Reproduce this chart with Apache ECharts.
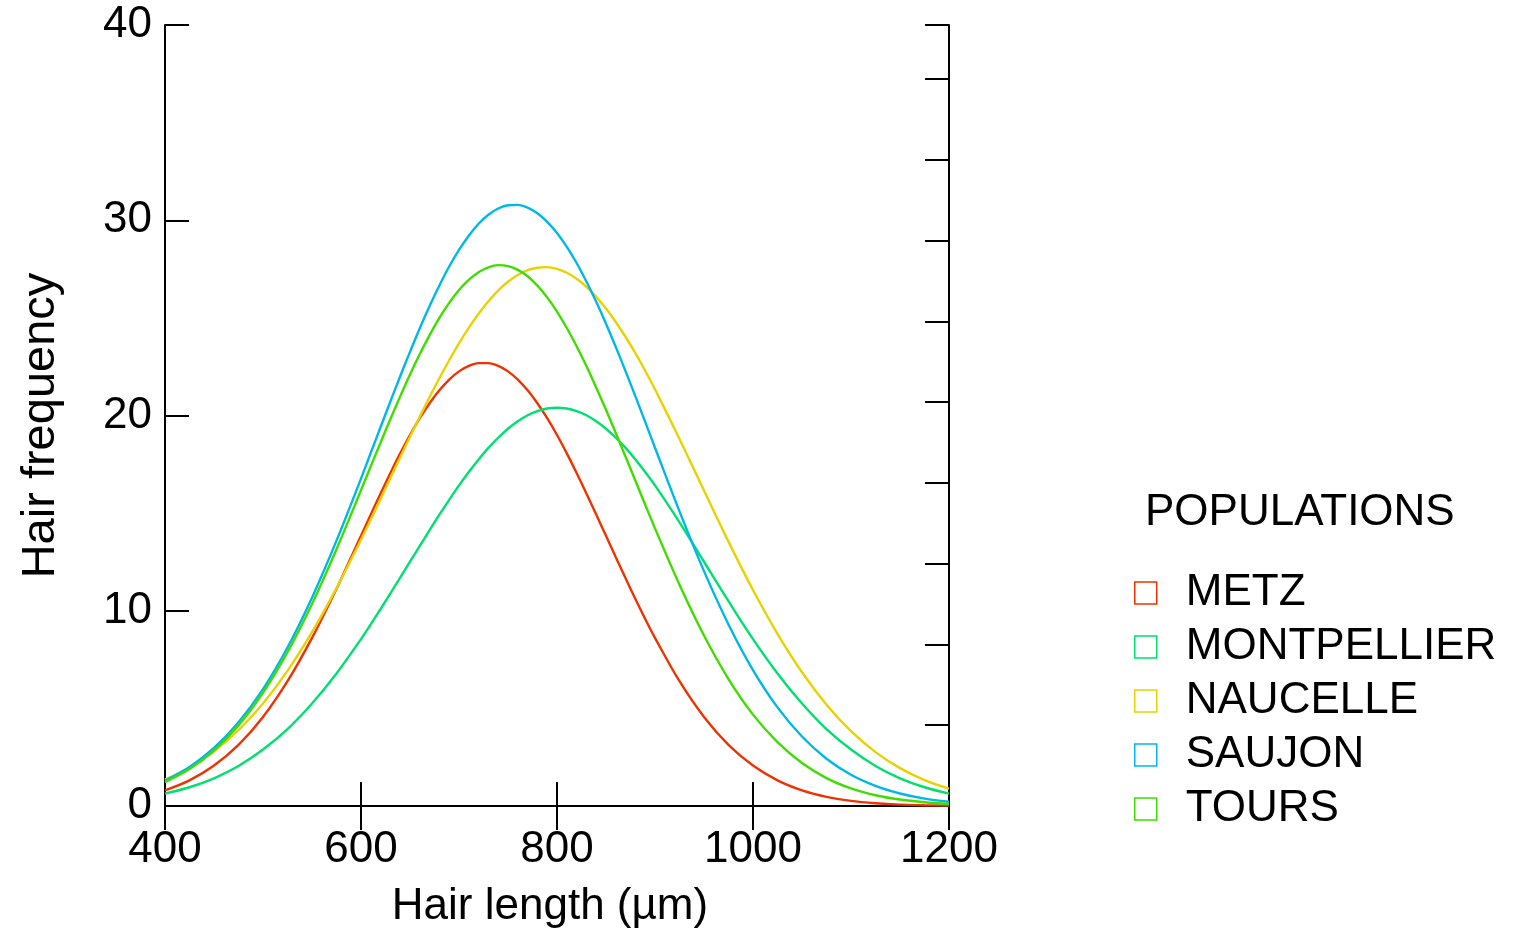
<!DOCTYPE html>
<html>
<head>
<meta charset="utf-8">
<script src="https://cdn.jsdelivr.net/npm/echarts@6/dist/echarts.min.js"></script>
<style>
html,body{margin:0;padding:0;background:#fff;}
#chart{width:1516px;height:934px;}
</style>
</head>
<body>
<div id="chart"></div>
<script>
// Hair length sample positions (µm) - denser through the curved central part
var hairLength = [400,425,450,475,500,525,550,575,600,
                  610,620,630,640,650,660,670,680,690,
                  700,710,720,730,740,750,760,770,780,790,800,810,820,830,840,850,
                  860,870,880,890,
                  900,925,950,975,1000,1025,1050,1075,1100,1125,1150,1175,1200];

var populations = ['METZ','MONTPELLIER','NAUCELLE','SAUJON','TOURS'];
var popColors = ['#ee3300','#00e070','#e8d200','#00b8e8','#40dd00'];

var metz = [0.80,1.31,2.07,3.13,4.56,6.39,8.61,11.13,13.84,
            14.93,16.01,17.06,18.06,19.00,19.86,20.63,21.29,21.84,
            22.26,22.54,22.68,22.68,22.54,22.26,21.84,21.29,20.63,19.86,19.00,18.06,17.06,16.01,14.93,13.84,
            12.74,11.66,10.60,9.58,
            8.61,6.39,4.56,3.13,2.07,1.31,0.80,0.47,0.26,0.14,0.07,0.04,0.02];
var montpellier = [0.63,0.96,1.42,2.05,2.89,3.94,5.25,6.79,8.55,
            9.31,10.09,10.89,11.70,12.51,13.32,14.13,14.92,15.68,
            16.42,17.11,17.75,18.34,18.86,19.32,19.70,20.01,20.22,20.36,20.40,20.36,20.22,20.01,19.70,19.32,
            18.86,18.34,17.75,17.11,
            16.42,14.53,12.51,10.49,8.55,6.79,5.25,3.94,2.89,2.05,1.42,0.96,0.63];
var naucelle = [1.35,1.97,2.80,3.88,5.25,6.92,8.90,11.16,13.64,
            14.68,15.73,16.80,17.86,18.91,19.94,20.95,21.91,22.83,
            23.70,24.49,25.21,25.85,26.40,26.85,27.20,27.44,27.57,27.60,27.51,27.31,27.00,26.59,26.08,25.48,
            24.79,24.02,23.19,22.29,
            21.34,18.80,16.16,13.54,11.06,8.82,6.85,5.19,3.83,2.76,1.94,1.33,0.89];
var saujon = [1.30,2.00,2.97,4.29,5.99,8.12,10.67,13.59,16.77,
            18.09,19.41,20.72,22.01,23.26,24.47,25.61,26.66,27.63,
            28.48,29.21,29.82,30.28,30.60,30.77,30.79,30.65,30.36,29.92,29.35,28.64,27.81,26.86,25.82,24.70,
            23.51,22.26,20.98,19.67,
            18.35,15.09,12.03,9.30,6.96,5.05,3.56,2.42,1.60,1.03,0.64,0.38,0.22];
var tours = [1.22,1.89,2.84,4.13,5.80,7.88,10.35,13.15,16.17,
            17.40,18.62,19.82,20.98,22.10,23.15,24.12,25.00,25.77,
            26.43,26.95,27.34,27.59,27.70,27.65,27.46,27.13,26.65,26.05,25.32,24.48,23.55,22.53,21.43,20.29,
            19.10,17.88,16.66,15.43,
            14.22,11.33,8.73,6.50,4.68,3.27,2.20,1.43,0.90,0.55,0.33,0.19,0.10];

var xTicks = [400,1200,200];   // min, max, interval
var yTicks = [0,40,10];        // min, max, interval

var seriesValues = [metz, montpellier, naucelle, saujon, tours];

var FONT = '"Liberation Sans", Arial, sans-serif';

function pairs(vals){
  return hairLength.map(function(x,i){ return [x, vals[i]]; });
}

var chart = echarts.init(document.getElementById('chart'), null, {renderer:'canvas'});

var axisLine = {show:true, lineStyle:{color:'#000', width:2}};
var tickIn = {show:true, inside:true, length:24, lineStyle:{color:'#000', width:2}};

var option = {
  backgroundColor:'#fff',
  animation:false,
  title:{
    text:'POPULATIONS',
    left:1140, top:486,
    textStyle:{fontFamily:FONT, fontSize:44, fontWeight:'normal', color:'#000'}
  },
  legend:{
    orient:'vertical',
    left:1134, top:571,
    padding:0,
    itemWidth:22, itemHeight:22,
    itemGap:10,
    icon:'rect',
    textStyle:{fontFamily:FONT, fontSize:44, color:'#000', padding:[0,0,0,24]},
    data: populations.map(function(n,i){
      return {name:n, itemStyle:{color:'#ffffff', borderColor:popColors[i], borderWidth:1.5}};
    })
  },
  grid:{left:165, top:25, right:567, bottom:125, containLabel:false},
  xAxis:[{
    type:'value', min:xTicks[0], max:xTicks[1], interval:xTicks[2],
    position:'bottom',
    name:'Hair length (µm)', nameLocation:'middle', nameGap:79,
    nameTextStyle:{fontFamily:FONT, fontSize:44, color:'#000', padding:[0,14,0,0]},
    axisLine:axisLine, axisTick:tickIn,
    axisLabel:{fontFamily:FONT, fontSize:44, color:'#000', margin:22,
      formatter:function(v){ return String(v); }},
    splitLine:{show:false}
  },{
    type:'value', min:xTicks[0], max:xTicks[1], interval:xTicks[2],
    position:'top',
    axisLine:axisLine, axisTick:tickIn,
    axisLabel:{show:false}, splitLine:{show:false}
  }],
  yAxis:[{
    type:'value', min:yTicks[0], max:yTicks[1], interval:yTicks[2],
    position:'left',
    name:'Hair frequency', nameLocation:'middle', nameGap:100, nameRotate:90,
    nameTextStyle:{fontFamily:FONT, fontSize:47, color:'#000', padding:[0,20,0,0]},
    axisLine:axisLine, axisTick:tickIn,
    axisLabel:{fontFamily:FONT, fontSize:44, color:'#000', margin:13},
    splitLine:{show:false}
  },{
    type:'value', min:0, max:9.667, interval:1,
    position:'right',
    axisLine:axisLine, axisTick:tickIn,
    axisLabel:{show:false}, splitLine:{show:false}
  }],
  series: populations.map(function(n,i){
    return {
      name:n, type:'line', xAxisIndex:0, yAxisIndex:0,
      data:pairs(seriesValues[i]),
      smooth:0.33, showSymbol:false, symbol:'none',
      color:popColors[i],
      lineStyle:{color:popColors[i], width:2.4},
      itemStyle:{color:popColors[i]},
      clip:true
    };
  })
};
chart.setOption(option);
</script>
</body>
</html>
